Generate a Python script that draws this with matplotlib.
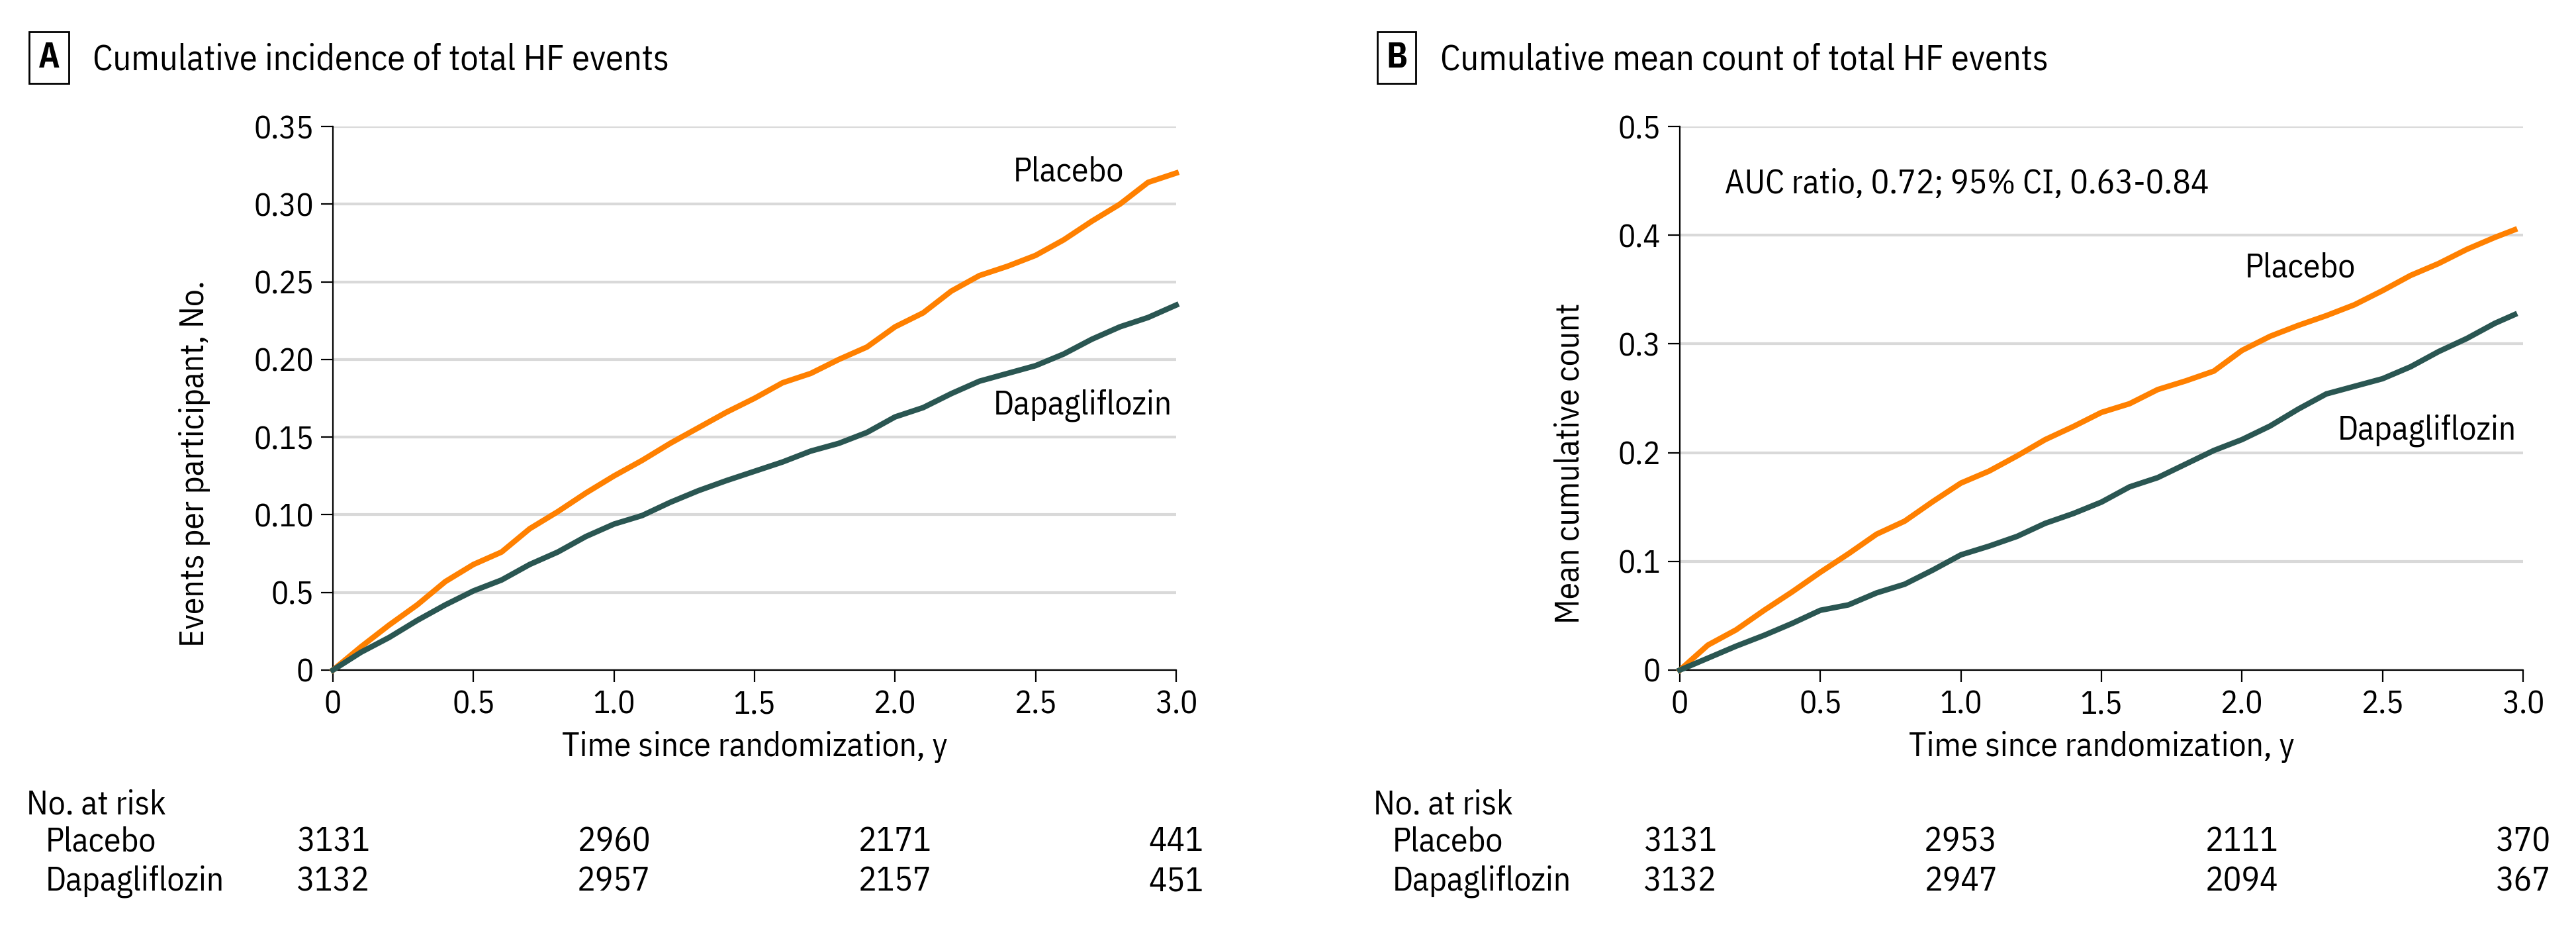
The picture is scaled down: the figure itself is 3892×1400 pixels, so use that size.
import matplotlib
matplotlib.use("Agg")
import matplotlib.pyplot as plt
import matplotlib.transforms as mtransforms

# condensed face close to the journal font; first installed one wins
plt.rcParams['font.family'] = ['IBM Plex Sans Condensed', 'Fira Sans Condensed',
                               'Roboto Condensed', 'Archivo Narrow', 'DejaVu Sans']

# ---- data (time in years) ----
time_a = [0, 0.1, 0.2, 0.3, 0.4, 0.5, 0.6, 0.7, 0.8, 0.9, 1.0, 1.1, 1.2, 1.3, 1.4, 1.5,
          1.6, 1.7, 1.8, 1.9, 2.0, 2.1, 2.2, 2.3, 2.4, 2.5, 2.6, 2.7, 2.8, 2.9, 3.0]
placebo_a = [0, 0.015, 0.029, 0.042, 0.057, 0.068, 0.076, 0.091, 0.102, 0.114, 0.125,
             0.135, 0.146, 0.156, 0.166, 0.175, 0.185, 0.191, 0.200, 0.208, 0.221,
             0.230, 0.244, 0.254, 0.260, 0.267, 0.277, 0.289, 0.300, 0.314, 0.320]
dapa_a = [0, 0.0115, 0.021, 0.032, 0.042, 0.051, 0.058, 0.068, 0.076, 0.086, 0.094,
          0.0995, 0.108, 0.1155, 0.122, 0.128, 0.134, 0.141, 0.146, 0.153, 0.163,
          0.169, 0.178, 0.186, 0.191, 0.196, 0.2035, 0.213, 0.221, 0.227, 0.235]

time_b = [0, 0.1, 0.2, 0.3, 0.4, 0.5, 0.6, 0.7, 0.8, 0.9, 1.0, 1.1, 1.2, 1.3, 1.4, 1.5,
          1.6, 1.7, 1.8, 1.9, 2.0, 2.1, 2.2, 2.3, 2.4, 2.5, 2.6, 2.7, 2.8, 2.9, 2.97]
placebo_b = [0, 0.023, 0.037, 0.055, 0.072, 0.090, 0.107, 0.125, 0.137, 0.155, 0.172,
             0.183, 0.197, 0.212, 0.224, 0.237, 0.245, 0.258, 0.266, 0.275, 0.294,
             0.307, 0.317, 0.326, 0.336, 0.349, 0.363, 0.374, 0.387, 0.398, 0.405]
dapa_b = [0, 0.011, 0.022, 0.032, 0.043, 0.055, 0.060, 0.071, 0.079, 0.092, 0.106,
          0.114, 0.123, 0.135, 0.144, 0.1545, 0.1685, 0.177, 0.1895, 0.202, 0.212,
          0.2245, 0.240, 0.254, 0.261, 0.268, 0.279, 0.293, 0.305, 0.319, 0.327]

risk_times = [0, 1, 2, 3]
risk_placebo_a = [3131, 2960, 2171, 441]
risk_dapa_a = [3132, 2957, 2157, 451]
risk_placebo_b = [3131, 2953, 2111, 370]
risk_dapa_b = [3132, 2947, 2094, 367]

x_ticks = [0, 0.5, 1.0, 1.5, 2.0, 2.5, 3.0]
x_ticklabels = ['0', '0.5', '1.0', '1.5', '2.0', '2.5', '3.0']
y_ticks_a = [0, 0.05, 0.10, 0.15, 0.20, 0.25, 0.30, 0.35]
# the original figure labels the 0.05 tick as "0.5"
y_ticklabels_a = ['0', '0.5', '0.10', '0.15', '0.20', '0.25', '0.30', '0.35']
y_ticks_b = [0, 0.1, 0.2, 0.3, 0.4, 0.5]
y_ticklabels_b = ['0', '0.1', '0.2', '0.3', '0.4', '0.5']

ORANGE = '#FF8000'
TEAL = '#2A5652'
W, H = 3892, 1400
FS_TICK = 35
FS = 37

fig = plt.figure(figsize=(W / 100, H / 100), dpi=100)


def px(x, y):
    # pixel position (from top-left) -> figure fraction
    return x / W, 1 - y / H


def setup_axes(left_px, yticks, yticklabels, ylim, ylabel, ylabel_x):
    ax = fig.add_axes([left_px / W, (H - 1012) / H, 1274 / W, 821 / H])
    ax.set_xlim(0, 3.0)
    ax.set_ylim(*ylim)
    ax.set_xticks(x_ticks)
    ax.set_xticklabels(x_ticklabels)
    ax.set_yticks(yticks)
    ax.set_yticklabels(yticklabels)
    for s in ['top', 'right']:
        ax.spines[s].set_visible(False)
    for s in ['left', 'bottom']:
        ax.spines[s].set_linewidth(1.6)
    ax.tick_params(direction='out', length=13, width=1.6, labelsize=FS_TICK, pad=8)
    ax.yaxis.grid(True, color='#d9d9d9', linewidth=3)
    ax.set_axisbelow(True)
    ax.set_xlabel('Time since randomization, y', fontsize=FS, labelpad=12)
    ax.set_ylabel(ylabel, fontsize=FS)
    ax.yaxis.set_label_coords(ylabel_x, 0.5, transform=fig.transFigure)
    return ax


def risk_table(ax, placebo, dapa, label_x):
    tr = mtransforms.blended_transform_factory(ax.transData, fig.transFigure)
    fig.text(*px(label_x, 1216), 'No. at risk', fontsize=FS, va='center', ha='left')
    fig.text(*px(label_x + 29, 1271), 'Placebo', fontsize=FS, va='center', ha='left')
    fig.text(*px(label_x + 29, 1331), 'Dapagliflozin', fontsize=FS, va='center', ha='left')
    for t, p, d in zip(risk_times, placebo, dapa):
        ax.text(t, 1 - 1271 / H, str(p), transform=tr, fontsize=FS, ha='center', va='center')
        ax.text(t, 1 - 1331 / H, str(d), transform=tr, fontsize=FS, ha='center', va='center')


def panel_title(box_x, text_x, letter, title):
    fig.text(*px(box_x, 87), letter, fontsize=38, fontweight='bold', ha='center', va='center',
             bbox=dict(boxstyle='square,pad=0.25', fc='none', ec='black', lw=2))
    fig.text(*px(text_x, 106), title, fontsize=39, ha='left', va='baseline')


# ---- panel A ----
ax1 = setup_axes(503, y_ticks_a, y_ticklabels_a, (0, 0.35), 'Events per participant, No.', 318 / W)
ax1.plot(time_a, placebo_a, color=ORANGE, lw=6, clip_on=False, zorder=3)
ax1.plot(time_a, dapa_a, color=TEAL, lw=6, clip_on=False, zorder=3)
ax1.text(2.42, 0.321, 'Placebo', fontsize=FS, ha='left', va='center')
ax1.text(2.985, 0.1705, 'Dapagliflozin', fontsize=FS, ha='right', va='center')
risk_table(ax1, risk_placebo_a, risk_dapa_a, 40)
panel_title(74, 140, 'A', 'Cumulative incidence of total HF events')

# ---- panel B ----
ax2 = setup_axes(2538, y_ticks_b, y_ticklabels_b, (0, 0.5), 'Mean cumulative count', 2395 / W)
ax2.plot(time_b, placebo_b, color=ORANGE, lw=6, clip_on=False, zorder=3)
ax2.plot(time_b, dapa_b, color=TEAL, lw=6, clip_on=False, zorder=3)
ax2.text(2.01, 0.37, 'Placebo', fontsize=FS, ha='left', va='center')
ax2.text(2.977, 0.2204, 'Dapagliflozin', fontsize=FS, ha='right', va='center')
ax2.text(0.16, 0.447, 'AUC ratio, 0.72; 95% CI, 0.63-0.84', fontsize=FS, ha='left', va='center')
risk_table(ax2, risk_placebo_b, risk_dapa_b, 2075)
panel_title(2110, 2176, 'B', 'Cumulative mean count of total HF events')

fig.savefig('out.png', dpi=100, facecolor='white')
